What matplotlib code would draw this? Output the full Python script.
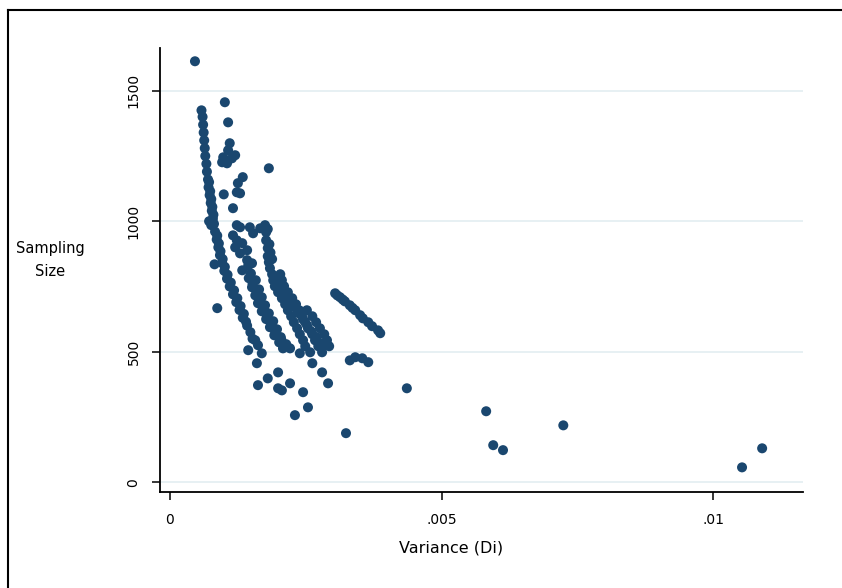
"""Sampling size against variance (Di), Stata-style scatter."""

import matplotlib

matplotlib.use("Agg")

import matplotlib.pyplot as plt
from matplotlib.lines import Line2D
import numpy as np

# steep left band
steep_var = [0.00058, 0.00060, 0.00061, 0.00062, 0.00063, 0.00064, 0.00065, 0.00067,
             0.00068, 0.00070, 0.00072, 0.00071, 0.00074, 0.00073, 0.00076, 0.00075,
             0.00078, 0.00077, 0.00080, 0.00079, 0.00072, 0.00076, 0.00081, 0.00083,
             0.00087, 0.00086, 0.00090, 0.00089, 0.00093, 0.00092, 0.00097, 0.00082,
             0.00096, 0.00101, 0.00100, 0.00106, 0.00105, 0.00112, 0.00110, 0.00118,
             0.00116, 0.00124, 0.00122, 0.00130, 0.00128, 0.00136, 0.00134, 0.00140,
             0.00142, 0.00148, 0.00152, 0.00157, 0.00162]
steep_n = [1425, 1400, 1370, 1340, 1310, 1280, 1250, 1220,
           1190, 1160, 1150, 1130, 1115, 1100, 1085, 1070,
           1055, 1040, 1025, 1010, 1000, 985, 990, 960,
           945, 930, 915, 900, 885, 870, 855, 835,
           840, 825, 810, 795, 780, 765, 750, 735,
           720, 705, 690, 675, 660, 645, 630, 615,
           600, 575, 550, 544, 525]

# scattered points in the upper part
upper_var = [0.00046, 0.00101, 0.00107, 0.00110, 0.00107, 0.00098, 0.00114, 0.00120,
             0.00096, 0.00105, 0.00134, 0.00125, 0.00123, 0.00129, 0.00099, 0.00116,
             0.00182]
upper_n = [1613, 1456, 1379, 1299, 1272, 1245, 1241, 1253,
           1226, 1222, 1169, 1146, 1111, 1107, 1103, 1050,
           1203]

# points between the left band and the middle bands
middle_var = [0.00123, 0.00129, 0.00116, 0.00123, 0.00120, 0.00133, 0.00129, 0.00142,
              0.00147, 0.00153, 0.00166, 0.00142, 0.00133, 0.00151, 0.00087, 0.00144,
              0.00149]
middle_n = [985, 977, 946, 927, 900, 916, 877, 889,
            977, 954, 973, 851, 812, 839, 667, 830,
            800]

# second band
band_b_var = [0.00145, 0.00158, 0.00151, 0.00164, 0.00157, 0.00169, 0.00162, 0.00175,
              0.00169, 0.00182, 0.00177, 0.00190, 0.00184, 0.00197, 0.00192, 0.00204,
              0.00201, 0.00214, 0.00208, 0.00221, 0.00152, 0.00160, 0.00166, 0.00173,
              0.00179, 0.00187, 0.00194, 0.00205]
band_b_n = [782, 774, 747, 739, 716, 709, 686, 678,
            655, 647, 625, 617, 594, 586, 563, 556,
            536, 529, 513, 513, 760, 728, 697, 666,
            636, 606, 575, 546]

# third, wider band
band_c_var = [0.00175, 0.00177, 0.00177, 0.00180, 0.00180, 0.00182, 0.00184, 0.00188,
              0.00203, 0.00190, 0.00206, 0.00193, 0.00210, 0.00199, 0.00217, 0.00206,
              0.00225, 0.00212, 0.00232, 0.00217, 0.00238, 0.00252, 0.00223, 0.00243,
              0.00262, 0.00228, 0.00249, 0.00269, 0.00234, 0.00254, 0.00276, 0.00239,
              0.00262, 0.00284, 0.00245, 0.00267, 0.00289, 0.00249, 0.00273, 0.00293,
              0.00258, 0.00280, 0.00180, 0.00183, 0.00185, 0.00188, 0.00196, 0.00200,
              0.00208, 0.00215, 0.00222, 0.00230, 0.00236, 0.00245, 0.00252, 0.00260,
              0.00270, 0.00278, 0.00285]
band_c_n = [985, 958, 927, 897, 866, 843, 820, 797,
            797, 774, 774, 751, 751, 728, 728, 705,
            705, 682, 682, 659, 659, 659, 636, 636,
            636, 613, 613, 613, 590, 590, 590, 567,
            567, 567, 544, 544, 544, 521, 521, 521,
            498, 498, 970, 912, 880, 855, 785, 762,
            740, 716, 694, 670, 648, 624, 602, 578,
            556, 532, 530]

# separate band on the right
band_d_var = [0.00304, 0.00313, 0.00322, 0.00331, 0.00341, 0.00350, 0.00355, 0.00365,
              0.00372, 0.00383, 0.00387, 0.00308, 0.00318, 0.00336]
band_d_n = [724, 709, 693, 678, 659, 640, 628, 613,
            598, 582, 571, 716, 700, 668]

# scattered points below the bands
lower_var = [0.00162, 0.00180, 0.00199, 0.00199, 0.00206, 0.00221, 0.00245, 0.00230,
             0.00254, 0.00239, 0.00262, 0.00280, 0.00291, 0.00160, 0.00144, 0.00169,
             0.00331, 0.00341, 0.00354, 0.00365, 0.00436, 0.00324]
lower_n = [372, 398, 421, 360, 352, 379, 345, 257,
           287, 494, 456, 421, 379, 456, 506, 494,
           467, 479, 475, 460, 360, 188]

# outliers with large variance
far_var = [0.00582, 0.00595, 0.00613, 0.00724, 0.01053, 0.01090]
far_n = [272, 142, 123, 218, 57, 130]

variance = np.concatenate([steep_var, upper_var, middle_var, band_b_var,
                           band_c_var, band_d_var, lower_var, far_var])
sample_size = np.concatenate([steep_n, upper_n, middle_n, band_b_n,
                              band_c_n, band_d_n, lower_n, far_n])

plt.rcParams["font.family"] = ["DejaVu Sans"]

fig = plt.figure(figsize=(8.42, 5.88), dpi=100, facecolor="white")
ax = fig.add_axes([0.190, 0.163, 0.764, 0.755])

ax.scatter(variance, sample_size, s=52, marker="o", color="#1a476f",
           edgecolors="none", zorder=3)

ax.set_xlim(-0.000184, 0.011657)
ax.set_ylim(-38, 1663)
ax.set_xticks([0, 0.005, 0.01])
ax.set_xticklabels(["0", ".005", ".01"])
ax.set_yticks([0, 500, 1000, 1500])
ax.set_yticklabels(["0", "500", "1000", "1500"], rotation=90, va="center")

ax.grid(axis="y", color="#e3edf1", linewidth=1.2, zorder=0)
ax.grid(axis="x", visible=False)
for side in ["top", "right"]:
    ax.spines[side].set_visible(False)
for side in ["left", "bottom"]:
    ax.spines[side].set_linewidth(1.3)
ax.tick_params(axis="both", direction="out", length=6, width=1.1,
               labelsize=10, colors="black")
ax.tick_params(axis="x", pad=9)
ax.tick_params(axis="y", pad=8)

ax.set_xlabel("Variance (Di)", fontsize=11.5, va="center")
ax.xaxis.set_label_coords(0.453, -0.126)
ax.set_ylabel("Sampling\nSize", fontsize=10.5, rotation=0, ha="center",
              va="center", linespacing=1.6)
ax.yaxis.set_label_coords(-0.171, 0.523)

# outer frame of the graph region (left and top edges visible)
fig.add_artist(Line2D([8 / 842, 8 / 842], [0, 1 - 10 / 588], color="black",
                      linewidth=1.5, transform=fig.transFigure))
fig.add_artist(Line2D([8 / 842, 1], [1 - 10 / 588, 1 - 10 / 588], color="black",
                      linewidth=1.5, transform=fig.transFigure))

fig.savefig("out.png", dpi=100, facecolor="white")
plt.close(fig)
